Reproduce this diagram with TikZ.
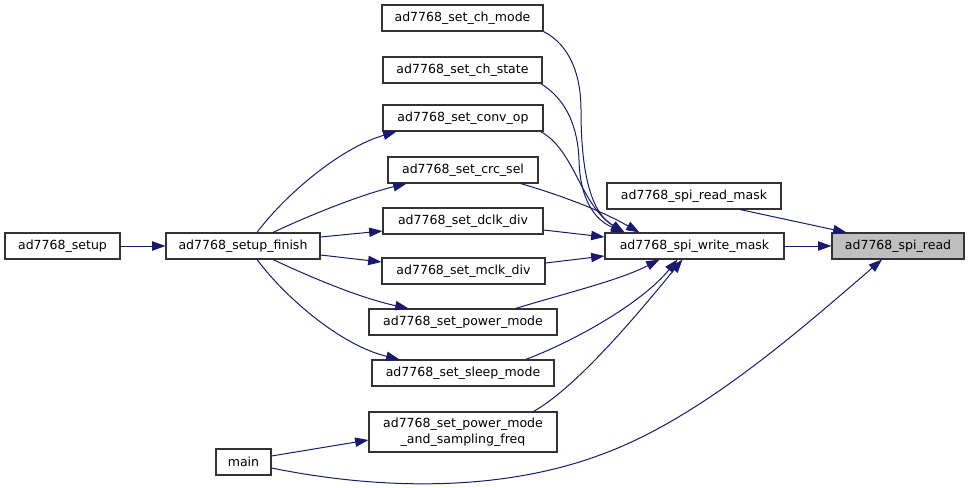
\documentclass[tikz,border=0pt]{standalone}
\usepackage{fontspec}
\setmainfont{DejaVu Sans}
\usetikzlibrary{arrows.meta,calc}
\definecolor{edgec}{HTML}{191970}
\definecolor{boxc}{HTML}{333333}
\definecolor{hl}{HTML}{BFBFBF}
\begin{document}
\begin{tikzpicture}[x=0.75pt,y=-0.75pt,
  box/.style={draw=boxc,line width=0.8pt,fill=white,inner sep=0pt,
    minimum height=26*0.75pt,font=\fontsize{9.4}{12}\selectfont,align=center},
  w/.style={minimum width=#1*0.75pt},
  edge/.style={draw=edgec,line width=0.75pt,-{Triangle[length=10pt,width=7pt]}}]
\useasboundingbox (0,0) rectangle (969,488);

\node[box,w=115] (setup) at (62.5,246) {ad7768\_setup};
\node[box,w=154] (sf) at (243,246) {ad7768\_setup\_finish};
\node[box,w=161] (chmode) at (462.5,18) {ad7768\_set\_ch\_mode};
\node[box,w=159] (chstate) at (462.5,70) {ad7768\_set\_ch\_state};
\node[box,w=160] (conv) at (463,118) {ad7768\_set\_conv\_op};
\node[box,w=150] (crc) at (463,170) {ad7768\_set\_crc\_sel};
\node[box,w=160] (dclk) at (463,221) {ad7768\_set\_dclk\_div};
\node[box,w=163] (mclk) at (463.5,271) {ad7768\_set\_mclk\_div};
\node[box,w=188] (pm) at (463,322) {ad7768\_set\_power\_mode};
\node[box,w=182] (sleep) at (463,373) {ad7768\_set\_sleep\_mode};
\node[box,w=188,minimum height=40*0.75pt] (pmsf) at (463,432) {ad7768\_set\_power\_mode\\\_and\_sampling\_freq};
\node[box,w=55] (main) at (243.5,462) {main};
\node[box,w=174] (rmask) at (694,196) {ad7768\_spi\_read\_mask};
\node[box,w=179] (wm) at (694.5,246) {ad7768\_spi\_write\_mask};
\node[box,w=132,fill=hl] (read) at (898,246) {ad7768\_spi\_read};

% setup -> setup_finish
\draw[edge] (setup) -- (sf);

% setup_finish -> setters
\draw[edge] ($(sf.north)+(14,0)$) .. controls (285,195) and (340,148) .. ($(conv.south west)+(14,0)$);
\draw[edge] ($(sf.north)+(30,0)$) .. controls (310,215) and (360,195) .. ($(crc.south west)+(19,0)$);
\draw[edge] ($(sf.east)+(0,-9)$) -- ($(dclk.west)+(0,10)$);
\draw[edge] ($(sf.east)+(0,9)$) -- ($(mclk.west)+(0,-9)$);
\draw[edge] ($(sf.south)+(30,0)$) .. controls (310,277) and (360,298) .. ($(pm.north west)+(40,0)$);
\draw[edge] ($(sf.south)+(14,0)$) .. controls (285,297) and (340,345) .. ($(sleep.north west)+(28,0)$);

% setters -> spi_write_mask
\draw[edge] (chmode.south east) .. controls (570,45) and (581,75) .. (581,110)
  .. controls (581,185) and (595,215) .. ($(wm.north west)+(20,0)$);
\draw[edge] ($(chstate.south east)+(-2,0)$) .. controls (568,100) and (578,130) .. (579,160)
  .. controls (580,200) and (595,220) .. ($(wm.north west)+(20,0)$);
\draw[edge] ($(conv.south east)+(-3,0)$) .. controls (575,150) and (580,205) .. ($(wm.north west)+(20,0)$);
\draw[edge] ($(crc.south east)+(-18,0)$) .. controls (560,195) and (600,210) .. ($(wm.north west)+(35,0)$);
\draw[edge] ($(dclk.east)+(0,9)$) -- ($(wm.west)+(0,-9)$);
\draw[edge] ($(mclk.east)+(0,-8)$) -- ($(wm.west)+(0,10)$);
\draw[edge] ($(pm.north east)+(-42,0)$) .. controls (570,292) and (620,280) .. ($(wm.south west)+(55,0)$);
\draw[edge] ($(sleep.north east)+(-29,0)$) .. controls (570,343) and (640,305) .. ($(wm.south west)+(73,0)$);
\draw[edge] ($(pmsf.north east)+(-24,0)$) .. controls (580,385) and (645,305) .. ($(wm.south west)+(78,0)$);

% to spi_read
\draw[edge] (wm) -- (read);
\draw[edge] ($(rmask.south)+(46,0)$) -- ($(read.north west)+(15,0)$);

% main
\draw[edge] ($(main.east)+(0,-6)$) -- ($(pmsf.west)+(0,8)$);
\draw[edge] ($(main.east)+(0,6)$) .. controls (380,490) and (500,492) .. (600,455)
  .. controls (700,419) and (800,330) .. ($(read.south)+(-16,0)$);
\end{tikzpicture}
\end{document}
